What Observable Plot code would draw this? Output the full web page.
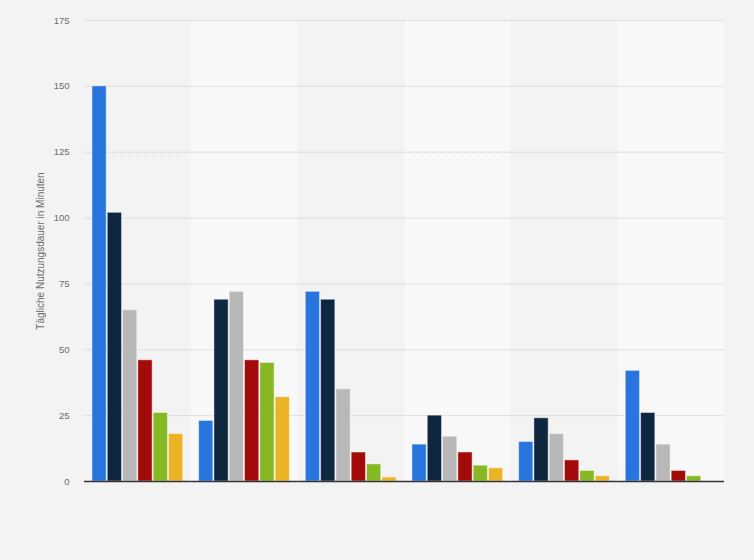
<!DOCTYPE html>
<html>
<head>
<meta charset="utf-8">
<script src="https://cdn.jsdelivr.net/npm/d3@7"></script>
<script src="https://cdn.jsdelivr.net/npm/@observablehq/plot@0.6"></script>
<style>
  html, body { margin: 0; padding: 0; background: #f3f3f3; }
  #chart { width: 754px; height: 560px; }
  #chart svg g[aria-label="y-axis label"] text { font-size: 10px; }
</style>
</head>
<body>
<div id="chart"></div>
<script>
const groups = ["Gruppe 1", "Gruppe 2", "Gruppe 3", "Gruppe 4", "Gruppe 5", "Gruppe 6"];
const series = ["Serie 1", "Serie 2", "Serie 3", "Serie 4", "Serie 5", "Serie 6"];
const colors = ["#2876dd", "#0f2640", "#b8b8b8", "#a30a0a", "#86b823", "#ebb424"];
const serie1 = [150, 23, 72, 14, 15, 42];
const serie2 = [102, 69, 69, 25, 24, 26];
const serie3 = [65, 72, 35, 17, 18, 14];
const serie4 = [46, 46, 11, 11, 8, 4];
const serie5 = [26, 45, 6.5, 6, 4, 2];
const serie6 = [18, 32, 1.5, 5, 2, null];
const yTicks = [0, 25, 50, 75, 100, 125, 150, 175];
const yLabel = "Tägliche Nutzungsdauer in Minuten";

const seriesValues = [serie1, serie2, serie3, serie4, serie5, serie6];
const data = [];
groups.forEach((g, gi) => {
  series.forEach((s, si) => {
    const v = seriesValues[si][gi];
    if (v != null) data.push({group: g, series: s, value: v});
  });
});

const chart = Plot.plot({
  width: 754,
  height: 560,
  marginLeft: 84,
  marginRight: 30,
  marginTop: 20,
  marginBottom: 79,
  style: {background: "#f3f3f3", fontFamily: "Arial, 'Liberation Sans', sans-serif", fontSize: "9.5px", color: "#6b6b6b"},
  fx: {domain: groups, padding: 0, axis: null, round: false},
  x: {domain: series, paddingInner: 0.07, paddingOuter: 0.52, round: false, axis: null},
  y: {domain: [0, 175], ticks: yTicks, tickSize: 0, tickPadding: 15, label: yLabel, labelAnchor: "center", labelOffset: 48, labelArrow: "none"},
  color: {domain: series, range: colors},
  marks: [
    Plot.barY(groups, {fx: d => d, y1: 0, y2: 175, fill: (d) => (groups.indexOf(d) % 2 ? "#f8f8f8" : "#f3f3f3")}),
    Plot.ruleY(yTicks.filter(t => t > 0), {stroke: "#c8c8c8", strokeDasharray: "1,1", strokeWidth: 1}),
    Plot.barY(data, {fx: "group", x: "series", y: "value", fill: "series", stroke: "white", strokeOpacity: 0.45, strokeWidth: 1}),
    Plot.ruleY([0], {stroke: "#333", strokeWidth: 1.5})
  ]
});
document.getElementById("chart").appendChild(chart);
</script>
</body>
</html>
